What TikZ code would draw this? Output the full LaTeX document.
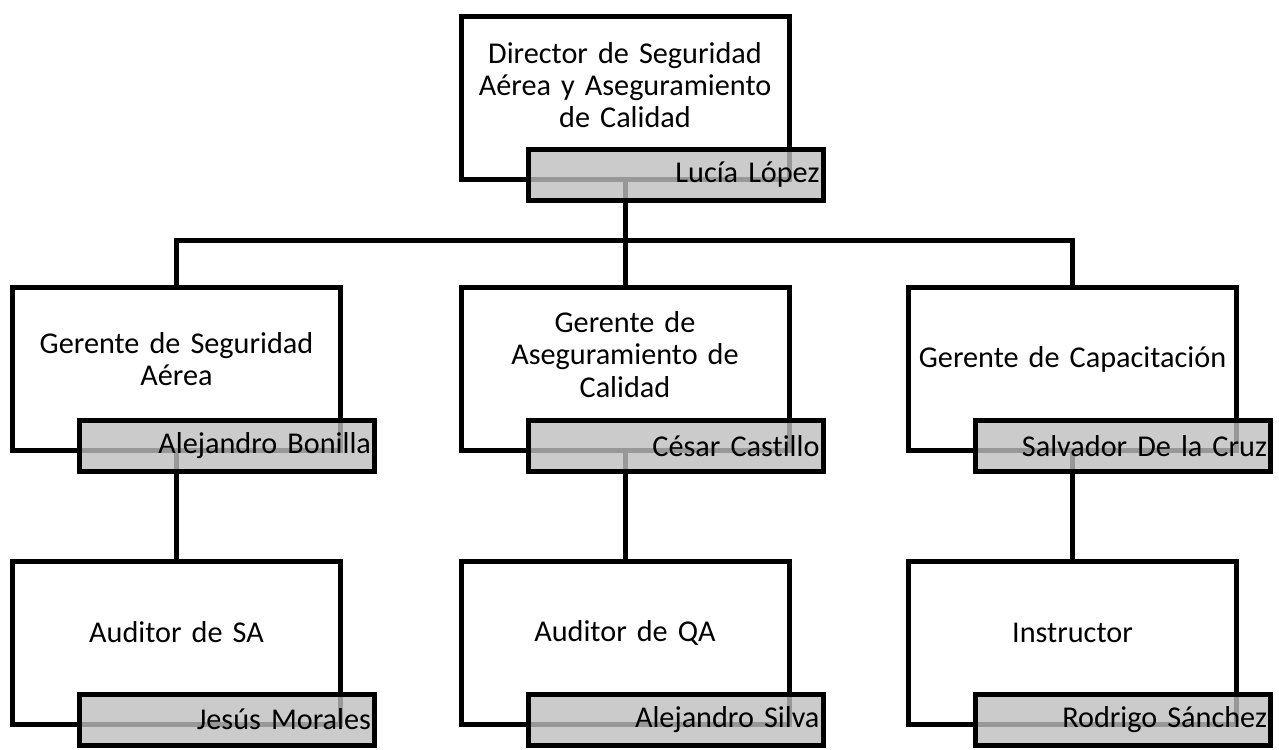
\documentclass[tikz,border=0pt]{standalone}
\usepackage{fontspec}
\setmainfont{Carlito}[Ligatures=NoCommon]
\usetikzlibrary{positioning,calc,backgrounds}

\begin{document}
\begin{tikzpicture}
[rolebox/.style={draw, line width=0.1cm,
                 minimum width=6.56cm, minimum height=3.26cm,
                 inner sep=0pt, outer sep=0pt},
 namebox/.style={draw, line width=0.1cm,
                 fill={rgb,255:red,190;green,190;blue,190},
                 fill opacity=0.8, text opacity=1,
                 text width=5.76cm, align=right,
                 minimum height=1.02cm, inner xsep=0.07cm,
                 inner ysep=0pt, outer sep=0pt,
                 font=\fontsize{17.2}{19}\selectfont},
 roletext/.style={align=center, text width=6.5cm,
                  font=\fontsize{17.2}{18.4}\selectfont},
 link/.style={line width=0.1cm}]
\useasboundingbox (0,0) rectangle (25.58,-14.98);

% director
\node[rolebox] (dir) at (12.5,-1.95) {};
\node[roletext] (dir-role) at ($(dir.center)+(0,0.25)$)
  {Director de Seguridad\\ Aérea y Aseguramiento\\ de Calidad};
\node[namebox, anchor=north west] (dir-name)
  at ($(dir.south west)+(1.34,0.6)$) {Lucía López};

% managers
\node[rolebox] (sa) at (3.53,-7.38) {};
\node[roletext] (sa-role) at ($(sa.center)+(0,0.2)$)
  {Gerente de Seguridad\\ Aérea};
\node[namebox, anchor=north west] (sa-name)
  at ($(sa.south west)+(1.34,0.6)$) {Alejandro Bonilla};

\node[rolebox] (qa) at (12.5,-7.38) {};
\node[roletext] (qa-role) at ($(qa.center)+(0,0.29)$)
  {Gerente de\\ Aseguramiento de\\ Calidad};
\node[namebox, anchor=north west] (qa-name)
  at ($(qa.south west)+(1.34,0.6)$) {César Castillo};

\node[rolebox] (tr) at (21.45,-7.38) {};
\node[roletext] (tr-role) at ($(tr.center)+(0,0.2)$)
  {Gerente de Capacitación};
\node[namebox, anchor=north west] (tr-name)
  at ($(tr.south west)+(1.34,0.6)$) {Salvador De la Cruz};

% staff
\node[rolebox] (saaud) at (3.53,-12.85) {};
\node[roletext] (saaud-role) at ($(saaud.center)+(0,0.2)$)
  {Auditor de SA};
\node[namebox, anchor=north west] (saaud-name)
  at ($(saaud.south west)+(1.34,0.6)$) {Jesús Morales};

\node[rolebox] (qaaud) at (12.5,-12.85) {};
\node[roletext] (qaaud-role) at ($(qaaud.center)+(0,0.2)$)
  {Auditor de QA};
\node[namebox, anchor=north west] (qaaud-name)
  at ($(qaaud.south west)+(1.34,0.6)$) {Alejandro Silva};

\node[rolebox] (instr) at (21.45,-12.85) {};
\node[roletext] (instr-role) at ($(instr.center)+(0,0.2)$)
  {Instructor};
\node[namebox, anchor=north west] (instr-name)
  at ($(instr.south west)+(1.34,0.6)$) {Rodrigo Sánchez};

% connectors, under the name boxes
\begin{scope}[on background layer]
\coordinate (bus) at (12.5,-4.8);
\draw[link] (dir.south) -- (bus);
\draw[link] (sa.north) |- (bus) -| (tr.north);
\draw[link] (bus) -- (qa.north);
\draw[link] (sa.south) -- (saaud.north);
\draw[link] (qa.south) -- (qaaud.north);
\draw[link] (tr.south) -- (instr.north);
\end{scope}
\end{tikzpicture}
\end{document}
